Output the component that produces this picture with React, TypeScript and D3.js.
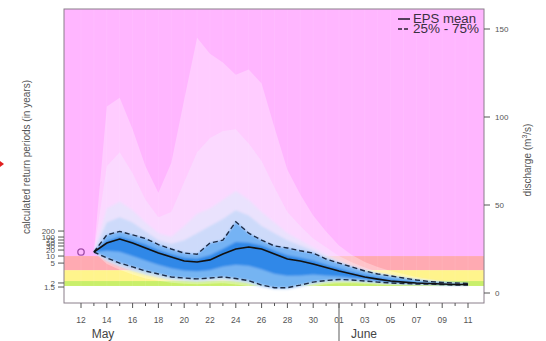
import React from 'react';
import * as d3 from 'd3';

// Forecast days: index 1..30 = 13 May .. 11 June (index 0 = 12 May)
const qMax = [23.3, 106, 111, 93, 72, 57, 74, 110, 145, 136, 131, 124, 127, 119, 94, 70, 56, 44, 35, 27, 21.6, 17.6, 14.8, 12.5, 10.8, 9.1, 8.0, 6.8, 6.2, 5.7];
const q95 = [23.3, 72, 80, 68, 53, 43, 46, 63, 80, 88, 92, 93, 85, 75, 60, 46, 38, 31, 26, 21, 17.5, 14.5, 12, 10.5, 9.3, 8.2, 7.3, 6.5, 6.0, 5.5];
const q90 = [23.3, 48, 52, 47, 40, 34, 32, 38, 45, 48, 53, 58, 53, 46, 40, 34, 30, 26, 22, 18.5, 15.5, 13, 11.2, 9.8, 8.8, 7.8, 7.0, 6.3, 5.8, 5.4];
const q85 = [23.3, 40, 43, 40, 35, 30, 28, 30, 34, 38, 42, 47, 44, 38, 34, 30, 27, 24, 20.5, 17.5, 15, 12.8, 11, 9.8, 8.7, 7.6, 6.8, 6.2, 5.8, 5.4];
const q75 = [23.3, 33, 35, 33, 31, 27.5, 25, 22.7, 22, 28.4, 30, 40.5, 34, 30, 26.7, 25.6, 24, 22.7, 19.3, 17, 14.8, 12.5, 10.8, 9.7, 8.5, 7.4, 6.5, 6.0, 5.7, 5.4];
const q60 = [23.3, 29.5, 32, 30, 27.5, 24.5, 22, 20, 19.5, 21.5, 25, 29, 28.5, 27, 24, 21.5, 20, 18.5, 16, 14, 12, 10.2, 8.8, 7.7, 6.9, 6.2, 5.8, 5.4, 5.1, 5.0];
const meanEPS = [23.3, 28.4, 30.7, 28.4, 25.6, 22.7, 20.5, 18.2, 17.6, 18.8, 22.2, 25.0, 26.1, 25.0, 22.2, 19.3, 18.2, 16.5, 14.5, 12.5, 10.8, 9.1, 7.9, 6.8, 6.2, 5.7, 5.4, 5.1, 4.8, 4.8];
const q40 = [23.3, 24, 23.5, 21, 18.5, 16, 14, 12.8, 12.3, 13, 15, 16, 15.5, 13.5, 11, 9.8, 10, 10.5, 10, 9.5, 8.8, 7.9, 7.0, 6.2, 5.8, 5.4, 5.2, 4.9, 4.7, 4.6];
const q25 = [23.3, 19.9, 17, 14.8, 12.5, 10.8, 9.1, 8.5, 8.0, 8.5, 9.1, 8.2, 7.0, 4.5, 3.0, 3.0, 4.5, 6.2, 7.1, 7.7, 7.4, 6.8, 6.2, 5.7, 5.4, 5.1, 5.1, 4.8, 4.5, 4.5];
const q10 = [23.3, 18, 15, 12.5, 10.3, 8.8, 7.4, 6.8, 6.4, 6.8, 7.3, 6.5, 5.4, 3.2, 2.0, 2.0, 3.3, 5.0, 6.0, 6.6, 6.5, 6.0, 5.5, 5.1, 4.9, 4.7, 4.6, 4.4, 4.2, 4.2];
const qMin = [23.3, 16.5, 13.2, 10.5, 8.3, 7.0, 5.8, 5.2, 5.0, 5.2, 5.5, 4.8, 3.8, 1.8, 0.8, 0.8, 2.0, 3.8, 5.0, 5.6, 5.6, 5.2, 4.9, 4.6, 4.4, 4.3, 4.2, 4.0, 3.9, 3.9];

const observed = 23.3; // 12 May

const dayLabels = ["12", "14", "16", "18", "20", "22", "24", "26", "28", "30", "01", "03", "05", "07", "09", "11"];
const dischargeTicks = [0, 50, 100, 150];
const returnPeriods = ["1.5", "2", "5", "10", "20", "30", "50", "75", "100", "200"];
const returnDischarge = [3.4, 5.7, 17, 21, 24.4, 26.7, 28.4, 30.1, 31.8, 35.2];

// warning-level bands (discharge thresholds)
const bandLow = [-10, 4.0, 6.8, 13, 21];
const bandHigh = [4.0, 6.8, 13, 21, 200];
const bandColors = ["#ffffff", "#c9ef6a", "#fff48c", "#ffaab2", "#ffb6ff"];

export default function App() {
  const P = { l: 64, r: 484, t: 9, b: 303 };
  const x = d3.scaleLinear().domain([0, 30]).range([81, 468]);
  const y = d3.scaleLinear().domain([0, 150]).range([293, 29]);

  const band = (lo: number[], hi: number[]) =>
    d3.area<number>()
      .x((_, i) => x(i + 1))
      .y0((_, i) => y(lo[i]))
      .y1((_, i) => y(hi[i]))(lo) as string;
  const line = (v: number[]) =>
    d3.line<number>().x((_, i) => x(i + 1)).y((d) => y(d))(v) as string;

  const days = d3.range(0, 31);
  const font = "'Liberation Sans', Arial, sans-serif";
  const juneX = x(20);

  return (
    <svg width={546} height={341} style={{ position: 'absolute', left: 0, top: 0, background: '#fff' }} fontFamily={font}>
      <defs>
        <clipPath id="plot">
          <rect x={P.l} y={P.t} width={P.r - P.l} height={P.b - P.t} />
        </clipPath>
        <filter id="soft" x="-5%" y="-5%" width="110%" height="110%">
          <feGaussianBlur stdDeviation="1.2" />
        </filter>
      </defs>
      <g clipPath="url(#plot)">
        {bandLow.map((lo, i) => (
          <rect key={i} x={P.l} width={P.r - P.l}
            y={y(Math.min(bandHigh[i], 161.4))}
            height={y(Math.max(lo, -5.7)) - y(Math.min(bandHigh[i], 161.4))}
            fill={bandColors[i]} />
        ))}
        {days.map((d) => (
          <line key={d} x1={x(d)} x2={x(d)} y1={P.t} y2={P.b} stroke="#ffffff" strokeOpacity={0.08} />
        ))}
        <path d={band(qMin, qMax)} fill="#ffffff" fillOpacity={0.3} />
        <path d={band(q10, q95)} fill="#f4f2ff" fillOpacity={0.35} />
        <g filter="url(#soft)">
          <path d={band(q10, q90)} fill="#dde9fc" fillOpacity={0.55} />
          <path d={band(q10, q85)} fill="#b2d4f8" fillOpacity={0.5} />
          <path d={band(q25, q75)} fill="#5fa9f2" fillOpacity={0.8} />
          <path d={band(q40, q60)} fill="#1f7ee5" fillOpacity={0.8} />
        </g>
        <path d={line(q75)} fill="none" stroke="#1d2b45" strokeWidth={1.4} strokeDasharray="5,3" />
        <path d={line(q25)} fill="none" stroke="#1d2b45" strokeWidth={1.4} strokeDasharray="5,3" />
        <path d={line(meanEPS)} fill="none" stroke="#111" strokeWidth={1.6} />
        <circle cx={x(0)} cy={y(observed)} r={3.2} fill="none" stroke="#a14ea8" strokeWidth={1.3} />
      </g>
      <rect x={P.l} y={P.t} width={P.r - P.l} height={P.b - P.t} fill="none" stroke="#8a7f8a" strokeWidth={1} />

      {/* legend */}
      <line x1={398} x2={410} y1={19} y2={19} stroke="#2a2030" strokeWidth={1.6} />
      <text x={413} y={23} fontSize={12} fill="#3a3040" textLength={63} lengthAdjust="spacingAndGlyphs">EPS mean</text>
      <line x1={398} x2={410} y1={29} y2={29} stroke="#2a2030" strokeWidth={1.4} strokeDasharray="4,2" />
      <text x={413} y={33} fontSize={12} fill="#3a3040" textLength={66} lengthAdjust="spacingAndGlyphs">25% - 75%</text>

      {/* x axis */}
      {days.map((d) => (
        <line key={d} x1={x(d)} x2={x(d)} y1={P.b} y2={P.b + (d % 2 === 0 ? 5 : 3)} stroke="#555" strokeWidth={1} />
      ))}
      {dayLabels.map((lab, i) => (
        <text key={lab + i} x={x(i * 2)} y={323} fontSize={8.5} fill="#555" textAnchor="middle">{lab}</text>
      ))}
      <line x1={juneX} x2={juneX} y1={P.b} y2={341} stroke="#777" strokeWidth={1.2} />
      <text x={103} y={338} fontSize={12} fill="#444" textAnchor="middle">May</text>
      <text x={364} y={338} fontSize={12} fill="#444" textAnchor="middle">June</text>

      {/* left axis: return periods */}
      {returnPeriods.map((lab, i) => (
        <g key={lab}>
          <line x1={P.l - 6} x2={P.l} y1={y(returnDischarge[i])} y2={y(returnDischarge[i])} stroke="#555" />
          <text x={P.l - 9} y={y(returnDischarge[i]) + 3} fontSize={8} fill="#555" textAnchor="end">{lab}</text>
        </g>
      ))}
      <text transform={`translate(30,157) rotate(-90)`} fontSize={10} fill="#555" textAnchor="middle">calculated return periods (in years)</text>

      {/* right axis: discharge */}
      {dischargeTicks.map((t) => (
        <g key={t}>
          <line x1={P.r} x2={P.r + 6} y1={y(t)} y2={y(t)} stroke="#555" />
          <text x={P.r + 11} y={y(t) + 3} fontSize={8} fill="#555">{t}</text>
        </g>
      ))}
      <text transform={`translate(531,160) rotate(-90)`} fontSize={10} fill="#555" textAnchor="middle">
        discharge (m<tspan dy={-4} fontSize={7}>3</tspan><tspan dy={4}>/s)</tspan>
      </text>

      {/* red marker at left edge */}
      <path d="M0,161 L4,164 L0,167 Z" fill="#e02020" />
    </svg>
  );
}
